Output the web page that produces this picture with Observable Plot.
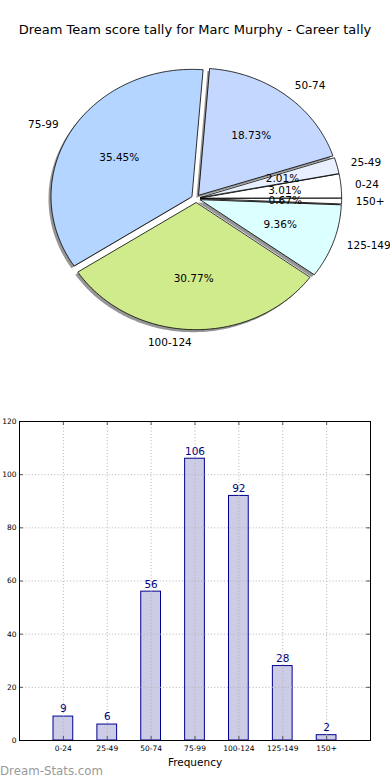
<!DOCTYPE html>
<html>
<head>
<meta charset="utf-8">
<script src="https://cdn.jsdelivr.net/npm/d3@7"></script>
<script src="https://cdn.jsdelivr.net/npm/@observablehq/plot@0.6"></script>
<style>
  html, body { margin: 0; padding: 0; background: #fff; }
  #wrap { position: relative; width: 390px; height: 780px; overflow: hidden; font-family: "DejaVu Sans", sans-serif; }
  #title { position: absolute; left: 0; width: 390px; top: 22px; text-align: center; font-size: 13px; line-height: 16px; color: #000; }
  #pie { position: absolute; left: 0; top: 0; }
  #bar { position: absolute; left: 0; top: 400px; }
  #mark { position: absolute; left: 0; top: 764px; font-size: 11.8px; line-height: 14px; color: #9a9a9a; }
</style>
</head>
<body>
<div id="wrap">
  <div id="pie"></div>
  <div id="bar"></div>
  <div id="title">Dream Team score tally for Marc Murphy - Career tally</div>
  <div id="mark">Dream-Stats.com</div>
</div>
<script>
// ---- data ----
const categories = ["0-24", "25-49", "50-74", "75-99", "100-124", "125-149", "150+"];
const counts = [9, 6, 56, 106, 92, 28, 2];
const pieColors = ["#ffffff", "#e8f0ff", "#c4d8ff", "#b4d5ff", "#d0eb8c", "#dcffff", "#ffffff"];
const yTicks = [0, 20, 40, 60, 80, 100, 120];
const xLabel = "Frequency";

// ---- pie geometry (matplotlib-style: start at east, counter-clockwise) ----
const total = d3.sum(counts);
const explode = 0.033;
const arcs = d3.pie().sort(null).value(d => d)(counts);
const slicePts = [];
const labels = [];
arcs.forEach((a, i) => {
  const mid = (a.startAngle + a.endAngle) / 2;
  const ox = explode * Math.cos(mid), oy = explode * Math.sin(mid);
  const n = Math.max(2, Math.ceil((a.endAngle - a.startAngle) / (Math.PI / 180)));
  slicePts.push({k: i, u: ox, v: oy, c: pieColors[i]});
  for (let j = 0; j <= n; j++) {
    const t = a.startAngle + (a.endAngle - a.startAngle) * j / n;
    slicePts.push({k: i, u: ox + Math.cos(t), v: oy + Math.sin(t), c: pieColors[i]});
  }
  labels.push({
    name: categories[i],
    pct: d3.format(".2f")(counts[i] / total * 100) + "%",
    lu: ox + 1.1 * Math.cos(mid), lv: oy + 1.1 * Math.sin(mid),
    pu: ox + 0.6 * Math.cos(mid), pv: oy + 0.6 * Math.sin(mid),
    right: Math.cos(mid) > 0
  });
});

const cx = 195.5, cy = 198, rx = 141, ry = 127;
const pie = Plot.plot({
  width: 390, height: 400,
  margin: 0,
  style: {fontFamily: "DejaVu Sans", fontSize: "10.5px", background: "transparent", overflow: "visible"},
  x: {domain: [-1, 1], range: [cx - rx, cx + rx], axis: null},
  y: {domain: [-1, 1], range: [cy + ry, cy - ry], axis: null},
  color: {type: "identity"},
  marks: [
    Plot.line(slicePts, {x: "u", y: "v", z: "k", curve: "linear-closed", fill: "#404040", fillOpacity: 0.55, stroke: "none", dx: -2.5, dy: 2.5}),
    Plot.line(slicePts, {x: "u", y: "v", z: "k", curve: "linear-closed", fill: "c", stroke: "#000", strokeWidth: 0.8, strokeLinejoin: "miter"}),
    Plot.text(labels, {x: "pu", y: "pv", text: "pct", fill: "#000", fontSize: 10.5}),
    Plot.text(labels.filter(d => d.right), {x: "lu", y: "lv", text: "name", textAnchor: "start", fill: "#000", fontSize: 10.5}),
    Plot.text(labels.filter(d => !d.right), {x: "lu", y: "lv", text: "name", textAnchor: "end", fill: "#000", fontSize: 10.5})
  ]
});
document.getElementById("pie").appendChild(pie);

// ---- bar chart ----
const barData = categories.map((c, i) => ({i, c, n: counts[i]}));
const xIdx = categories.map((c, i) => i);
const halfW = 0.225;
const bar = Plot.plot({
  width: 390, height: 380,
  marginLeft: 19, marginRight: 20, marginTop: 21, marginBottom: 40,
  style: {fontFamily: "DejaVu Sans", fontSize: "7.5px", background: "transparent", overflow: "visible"},
  x: {type: "linear", domain: [-1, 7]},
  y: {domain: [0, 120]},
  marks: [
    Plot.rectY(barData, {x1: d => d.i - halfW, x2: d => d.i + halfW, y1: 0, y2: "n", fill: "#ccccE6", stroke: "#000090", strokeWidth: 1}),
    Plot.ruleX(xIdx, {x: d => d, stroke: "#b0b0b0", strokeDasharray: "1,2.2"}),
    Plot.ruleY(yTicks.slice(1, -1), {y: d => d, stroke: "#b0b0b0", strokeDasharray: "1,2.2"}),
    Plot.ruleX(xIdx, {x: d => d, y1: 118.5, y2: 120, stroke: "#555"}),
    Plot.ruleX(xIdx, {x: d => d, y1: 0, y2: 1.5, stroke: "#555"}),
    Plot.ruleY(yTicks, {y: d => d, x1: 6.91, x2: 7, stroke: "#555"}),
    Plot.ruleY(yTicks, {y: d => d, x1: -1, x2: -0.91, stroke: "#555"}),
    Plot.frame({stroke: "#000", strokeWidth: 1}),
    Plot.text(barData, {x: "i", y: "n", text: d => String(d.n), dy: -7.5, fill: "#000080", fontSize: 10.5}),
    Plot.axisY({ticks: yTicks, tickSize: 0, tickPadding: 3, fontSize: 7.5, label: null}),
    Plot.axisX({ticks: xIdx, tickFormat: i => categories[i], tickSize: 0, tickPadding: 5, fontSize: 7.5, label: null}),
    Plot.text([xLabel], {frameAnchor: "bottom", text: d => d, dy: 25, fontSize: 10.5, fill: "#000"})
  ]
});
document.getElementById("bar").appendChild(bar);
</script>
</body>
</html>
